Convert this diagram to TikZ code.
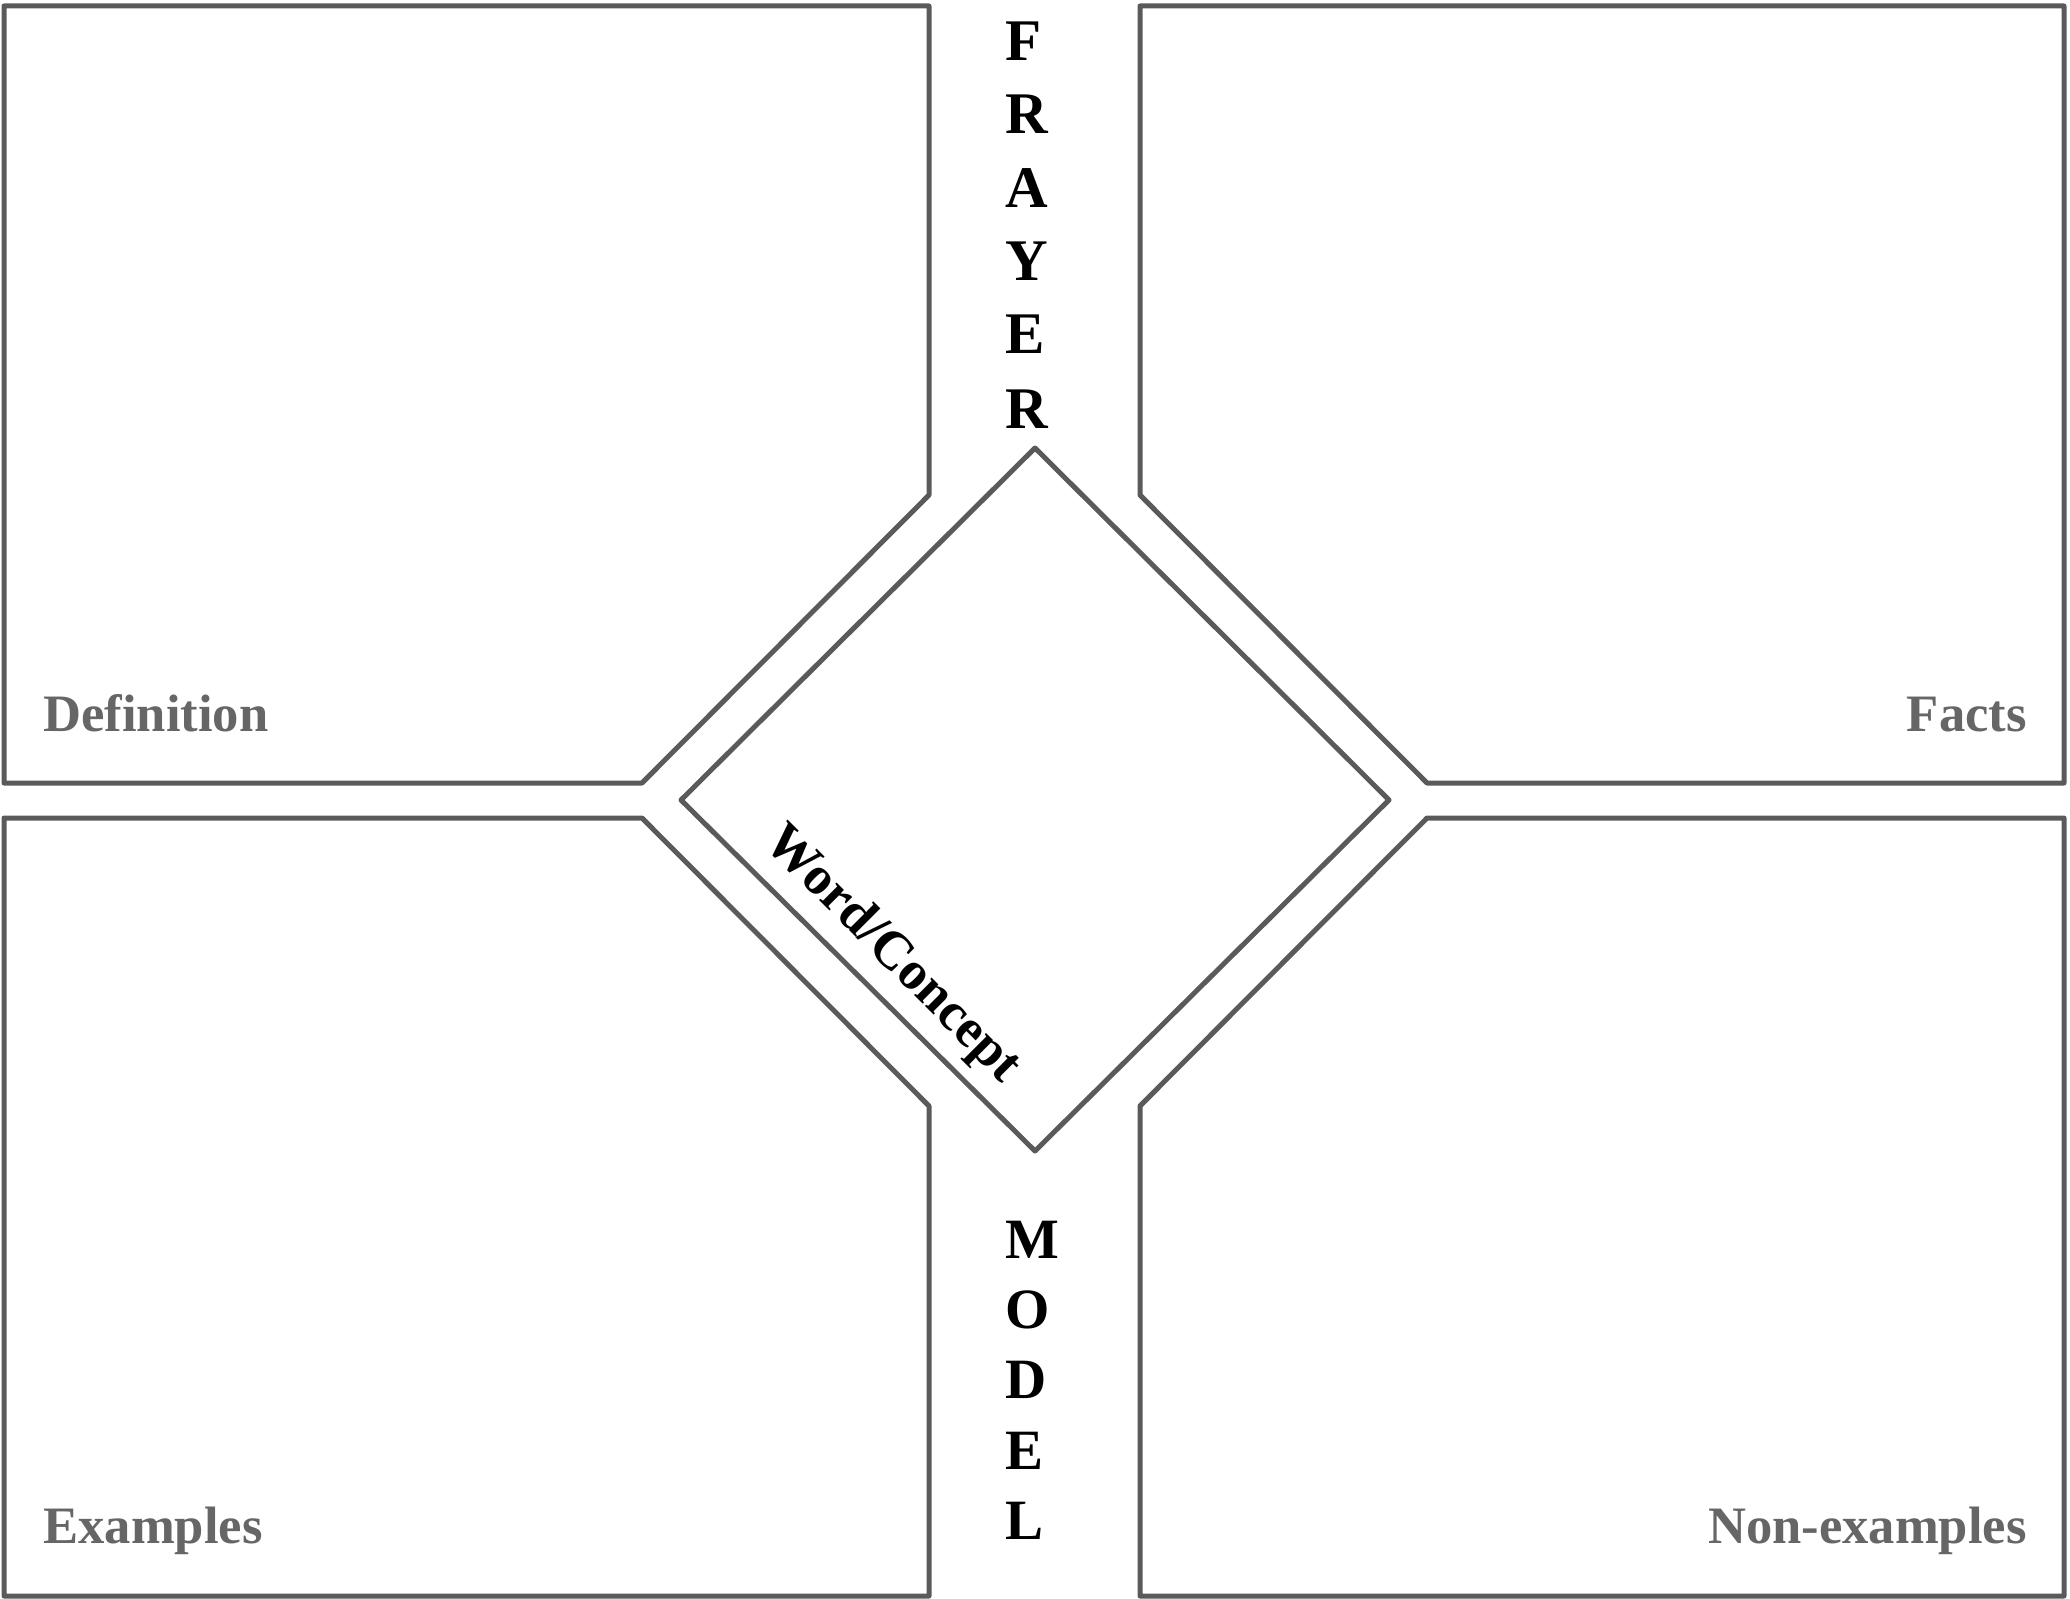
\documentclass[tikz,border=0pt]{standalone}
\usepackage{fontspec}
\setmainfont{Liberation Serif}
\definecolor{boxline}{HTML}{5A5A5A}
\definecolor{labelgray}{HTML}{666666}
\tikzset{
  panel/.style={draw=boxline, line width=2.5pt, line join=round},
  corner label/.style={inner sep=0pt, text=labelgray, font=\bfseries\fontsize{26.3}{30}\selectfont},
  title letter/.style={inner sep=0pt, anchor=base west, font=\bfseries\fontsize{29.5}{34}\selectfont},
  model letter/.style={inner sep=0pt, anchor=base west, font=\bfseries\fontsize{28.5}{32}\selectfont},
}
\begin{document}
\begin{tikzpicture}[x=0.5pt,y=-0.5pt]
\useasboundingbox (0,0) rectangle (2070,1599);
% quadrant panels
\draw[panel] (4,6) -- (929,6) -- (929,495) -- (642,783) -- (4,783) -- cycle;
\draw[panel] (4,818) -- (642,818) -- (929,1106) -- (929,1596) -- (4,1596) -- cycle;
\draw[panel] (1140,6) -- (2064,6) -- (2064,783) -- (1427,783) -- (1140,495) -- cycle;
\draw[panel] (1427,818) -- (2064,818) -- (2064,1596) -- (1140,1596) -- (1140,1106) -- cycle;
% central diamond
\draw[panel] (1035,448) -- (1389,800) -- (1035,1151) -- (681,800) -- cycle;
% labels
\node[corner label, anchor=base west] (def) at (43,731) {Definition};
\node[corner label, anchor=base east] (facts) at (2027,731) {Facts};
\node[corner label, anchor=base west] (ex) at (43,1543) {Examples};
\node[corner label, anchor=base east] (nonex) at (2027,1543) {Non-examples};
% FRAYER
\node[title letter] (f1) at (1005,61) {F};
\node[title letter] (f2) at (1005,134) {R};
\node[title letter] (f3) at (1005,208) {A};
\node[title letter] (f4) at (1005,281) {Y};
\node[title letter] (f5) at (1005,354) {E};
\node[title letter] (f6) at (1005,428) {R};
% MODEL
\node[model letter] (m1) at (1005,1258) {M};
\node[model letter] (m2) at (1005,1328) {O};
\node[model letter] (m3) at (1005,1398) {D};
\node[model letter] (m4) at (1005,1469) {E};
\node[model letter] (m5) at (1005,1539) {L};
% word / concept
\node[inner sep=0pt, rotate=-45, font=\bfseries\fontsize{27}{30}\selectfont] (word) at (892,955) {Word/Concept};
\end{tikzpicture}
\end{document}
